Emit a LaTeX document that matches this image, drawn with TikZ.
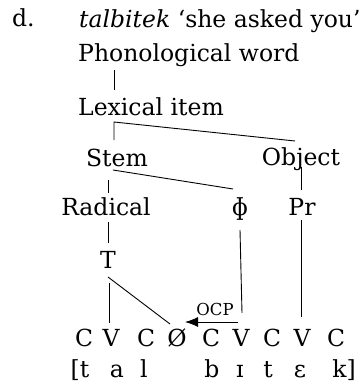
\documentclass[tikz,border=0pt]{standalone}
\usepackage{fontspec}
\usetikzlibrary{arrows.meta}
\setmainfont{DejaVu Serif}
\newcommand{\bigtxt}{\fontsize{23.5}{27}\selectfont}
\newcommand{\smalltxt}{\fontsize{16.5}{19}\selectfont}
\tikzset{
  txt/.style={inner sep=0pt, font=\bigtxt, anchor=base},
  ltxt/.style={txt, anchor=base west},
  assoc/.style={line width=0.9pt},
}
\begin{document}
\begin{tikzpicture}[x=1pt,y=-1pt]
			\useasboundingbox (0,0) rectangle (360,385);
			% header
			\node[ltxt] (num) at (12,27) {d.};
			\node[ltxt] (gloss) at (79,28) {\textit{talbitek} ‘she asked you’};
			\node[ltxt] (phon) at (78,62) {Phonological word};
			\node[ltxt] (lex) at (78,115) {Lexical item};
			\node[txt] (stem) at (117,166) {Stem};
			\node[txt] (obj) at (301,165) {Object};
			\node[txt] (rad) at (106,215) {Radical};
			\node[txt] (phi) at (240,215) {ɸ};
			\node[txt] (pr) at (302,215) {Pr};
			\node[txt] (T) at (108,268) {T};
			% skeleton
			\node[txt] (c1) at (84,346) {C};
			\node[txt] (c2) at (111,346) {V};
			\node[txt] (c3) at (146,346) {C};
			\node[txt] (c4) at (177,346) {Ø};
			\node[txt] (c5) at (211,346) {C};
			\node[txt] (c6) at (241,346) {V};
			\node[txt] (c7) at (272,346) {C};
			\node[txt] (c8) at (302,346) {V};
			\node[txt] (c9) at (336,346) {C};
			% surface form
			\node[txt] (s1) at (80,377) {[t};
			\node[txt] (s2) at (117,377) {a};
			\node[txt] (s3) at (144,377) {l};
			\node[txt] (s5) at (212,377) {b};
			\node[txt] (s6) at (240,377) {ɪ};
			\node[txt] (s7) at (268,377) {t};
			\node[txt] (s8) at (300,377) {ɛ};
			\node[txt] (s9) at (344,377) {k]};
			% tree
			\draw[assoc] ([xshift=36pt,yshift=-8pt]phon.base west) -- ([xshift=36pt,yshift=25pt]lex.base west);
			\draw[assoc] ([xshift=-3pt,yshift=26pt]stem.base) -- ([xshift=36pt,yshift=-7pt]lex.base west)
				-- ([xshift=-6pt,yshift=24pt]obj.base);
			\draw[assoc] ([xshift=-9pt,yshift=-14pt]stem.base) -- ([xshift=2pt,yshift=22pt]rad.base);
			\draw[assoc] ([xshift=-4pt,yshift=-4pt]stem.base) -- ([xshift=-7pt,yshift=26pt]phi.base);
			\draw[assoc] ([yshift=-2pt]obj.base) -- ([xshift=-1pt,yshift=25pt]pr.base);
			\draw[assoc] ([xshift=2pt,yshift=-7pt]rad.base) -- ([yshift=25pt]T.base);
			\draw[assoc] ([xshift=1pt,yshift=-15pt]T.base) -- ([xshift=-2pt,yshift=23pt]c2.base);
			\draw[assoc] ([yshift=-9pt]T.base) -- ([xshift=-7pt,yshift=22pt]c4.base);
			\draw[assoc] ([yshift=-15pt]phi.base) -- ([xshift=1pt,yshift=33pt]c6.base);
			\draw[assoc] ([xshift=-1pt,yshift=-5pt]pr.base) -- ([xshift=-1pt,yshift=29pt]c8.base);
			% OCP
			\node[txt,font=\smalltxt] (ocp) at (215,315) {OCP};
			\draw[assoc,-{Latex[length=13pt,width=10pt]}] ([xshift=-3pt,yshift=24pt]c6.base) -- ([xshift=8pt,yshift=24pt]c4.base);
\end{tikzpicture}
\end{document}
